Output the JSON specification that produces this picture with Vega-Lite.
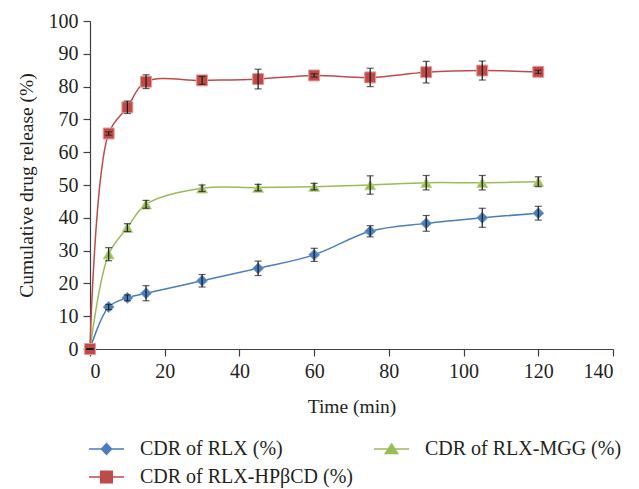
{
  "$schema": "https://vega.github.io/schema/vega-lite/v6.json",
  "width": 523,
  "height": 328,
  "autosize": "none",
  "padding": {"left": 90, "top": 21, "right": 26, "bottom": 140},
  "background": "white",
  "config": {
    "view": {"stroke": null},
    "font": "Liberation Serif",
    "axis": {
      "grid": false,
      "domainColor": "#404040",
      "tickColor": "#404040",
      "domainWidth": 1.2,
      "tickWidth": 1.2,
      "labelFont": "Liberation Serif",
      "labelFontSize": 20,
      "labelColor": "#231F20",
      "titleFont": "Liberation Serif",
      "titleFontSize": 19.5,
      "titleFontWeight": "normal",
      "titleColor": "#231F20"
    },
    "legend": {"labelFont": "Liberation Serif"}
  },
  "data": {
    "values": [
      {"time": 0, "series": "CDR of RLX (%)", "value": 0, "err": 0},
      {"time": 5, "series": "CDR of RLX (%)", "value": 12.8, "err": 0.8},
      {"time": 10, "series": "CDR of RLX (%)", "value": 15.6, "err": 0.9},
      {"time": 15, "series": "CDR of RLX (%)", "value": 17.0, "err": 2.3},
      {"time": 30, "series": "CDR of RLX (%)", "value": 20.8, "err": 1.9},
      {"time": 45, "series": "CDR of RLX (%)", "value": 24.6, "err": 2.2},
      {"time": 60, "series": "CDR of RLX (%)", "value": 28.7, "err": 2.0},
      {"time": 75, "series": "CDR of RLX (%)", "value": 35.9, "err": 1.7},
      {"time": 90, "series": "CDR of RLX (%)", "value": 38.3, "err": 2.4},
      {"time": 105, "series": "CDR of RLX (%)", "value": 40.0, "err": 2.9},
      {"time": 120, "series": "CDR of RLX (%)", "value": 41.4, "err": 2.1},
      {"time": 0, "series": "CDR of RLX-HPβCD (%)", "value": 0, "err": 0},
      {"time": 5, "series": "CDR of RLX-HPβCD (%)", "value": 65.7, "err": 0.5},
      {"time": 10, "series": "CDR of RLX-HPβCD (%)", "value": 73.7, "err": 1.9},
      {"time": 15, "series": "CDR of RLX-HPβCD (%)", "value": 81.5, "err": 2.1},
      {"time": 30, "series": "CDR of RLX-HPβCD (%)", "value": 81.9, "err": 1.2},
      {"time": 45, "series": "CDR of RLX-HPβCD (%)", "value": 82.3, "err": 3.0},
      {"time": 60, "series": "CDR of RLX-HPβCD (%)", "value": 83.4, "err": 0.5},
      {"time": 75, "series": "CDR of RLX-HPβCD (%)", "value": 82.8, "err": 2.8},
      {"time": 90, "series": "CDR of RLX-HPβCD (%)", "value": 84.4, "err": 3.3},
      {"time": 105, "series": "CDR of RLX-HPβCD (%)", "value": 84.9, "err": 2.9},
      {"time": 120, "series": "CDR of RLX-HPβCD (%)", "value": 84.5, "err": 0.5},
      {"time": 0, "series": "CDR of RLX-MGG (%)", "value": 0, "err": 0},
      {"time": 5, "series": "CDR of RLX-MGG (%)", "value": 28.9, "err": 2.0},
      {"time": 10, "series": "CDR of RLX-MGG (%)", "value": 37.0, "err": 1.2},
      {"time": 15, "series": "CDR of RLX-MGG (%)", "value": 44.1, "err": 1.2},
      {"time": 30, "series": "CDR of RLX-MGG (%)", "value": 49.0, "err": 1.0},
      {"time": 45, "series": "CDR of RLX-MGG (%)", "value": 49.2, "err": 1.0},
      {"time": 60, "series": "CDR of RLX-MGG (%)", "value": 49.5, "err": 1.0},
      {"time": 75, "series": "CDR of RLX-MGG (%)", "value": 50.0, "err": 2.8},
      {"time": 90, "series": "CDR of RLX-MGG (%)", "value": 50.7, "err": 2.2},
      {"time": 105, "series": "CDR of RLX-MGG (%)", "value": 50.7, "err": 2.2},
      {"time": 120, "series": "CDR of RLX-MGG (%)", "value": 51.0, "err": 1.5}
    ]
  },
  "encoding": {
    "x": {
      "field": "time",
      "type": "quantitative",
      "scale": {"domain": [0, 140], "nice": false, "zero": false},
      "axis": {"title": "Time (min)", "values": [0, 20, 40, 60, 80, 100, 120, 140], "tickSize": 7, "labelPadding": 5, "titlePadding": 16}
    },
    "y": {
      "field": "value",
      "type": "quantitative",
      "scale": {"domain": [0, 100], "nice": false},
      "axis": {"title": "Cumulative drug release (%)", "values": [0, 10, 20, 30, 40, 50, 60, 70, 80, 90, 100], "tickSize": 7, "labelPadding": 5, "titlePadding": 12}
    }
  },
  "layer": [
    {
      "transform": [{"filter": {"field": "series", "equal": "CDR of RLX (%)"}}],
      "layer": [
        {"mark": {"type": "line", "interpolate": "catmull-rom", "strokeWidth": 1.5, "color": "#4A7EBB"}},
        {"mark": {"type": "point", "shape": "diamond", "filled": true, "size": 120, "opacity": 1, "color": "#4A7EBB", "stroke": "#7DA2D4", "strokeWidth": 1}}
      ]
    },
    {
      "transform": [{"filter": {"field": "series", "equal": "CDR of RLX-MGG (%)"}}],
      "layer": [
        {"mark": {"type": "line", "interpolate": "catmull-rom", "strokeWidth": 1.5, "color": "#9BBB59"}},
        {"mark": {"type": "point", "shape": "triangle-up", "filled": true, "size": 120, "opacity": 1, "color": "#9BBB59", "stroke": "#BFD796", "strokeWidth": 1}}
      ]
    },
    {
      "transform": [{"filter": {"field": "series", "equal": "CDR of RLX-HPβCD (%)"}}],
      "layer": [
        {"mark": {"type": "line", "interpolate": "catmull-rom", "strokeWidth": 1.5, "color": "#BE4B48"}},
        {"mark": {"type": "point", "shape": "square", "filled": true, "size": 120, "opacity": 1, "color": "#BE4B48", "stroke": "#E49A98", "strokeWidth": 1}}
      ]
    },
    {
      "mark": {"type": "errorbar", "ticks": true, "color": "#1a1a1a", "size": 7, "thickness": 1.2},
      "encoding": {
        "yError": {"field": "err"}
      }
    },
    {
      "transform": [{"filter": {"field": "time", "lt": 0}}],
      "mark": {"type": "point", "filled": true, "opacity": 1, "strokeWidth": 1.5},
      "encoding": {
        "color": {
          "field": "series",
          "type": "nominal",
          "scale": {
            "domain": ["CDR of RLX (%)", "CDR of RLX-MGG (%)", "CDR of RLX-HPβCD (%)"],
            "range": ["#4A7EBB", "#9BBB59", "#BE4B48"]
          },
          "legend": {
            "title": null,
            "orient": "none",
            "legendX": 5.5,
            "legendY": 417,
            "direction": "horizontal",
            "columns": 2,
            "padding": 0,
            "rowPadding": 7,
            "columnPadding": 17,
            "symbolSize": 400,
            "symbolOpacity": 1,
            "symbolStrokeWidth": 1.5,
            "labelOffset": 22.5,
            "labelFont": "Liberation Serif",
            "labelFontSize": 20,
            "labelColor": "#231F20",
            "labelLimit": 400,
            "encode": {"labels": {"font": {"value": "Liberation Serif"}}}
          }
        },
        "stroke": {
          "field": "series",
          "type": "nominal",
          "scale": {
            "domain": ["CDR of RLX (%)", "CDR of RLX-MGG (%)", "CDR of RLX-HPβCD (%)"],
            "range": ["#4A7EBB", "#9BBB59", "#BE4B48"]
          }
        },
        "shape": {
          "field": "series",
          "type": "nominal",
          "scale": {
            "domain": ["CDR of RLX (%)", "CDR of RLX-MGG (%)", "CDR of RLX-HPβCD (%)"],
            "range": [
              "M-1.75,0H1.75M0,-0.55L0.5,0L0,0.55L-0.5,0Z",
              "M-1.75,0H1.75M0,-0.5L0.62,0.45H-0.62Z",
              "M-1.75,0H1.75M-0.58,-0.58H0.58V0.58H-0.58Z"
            ]
          }
        }
      }
    }
  ]
}
